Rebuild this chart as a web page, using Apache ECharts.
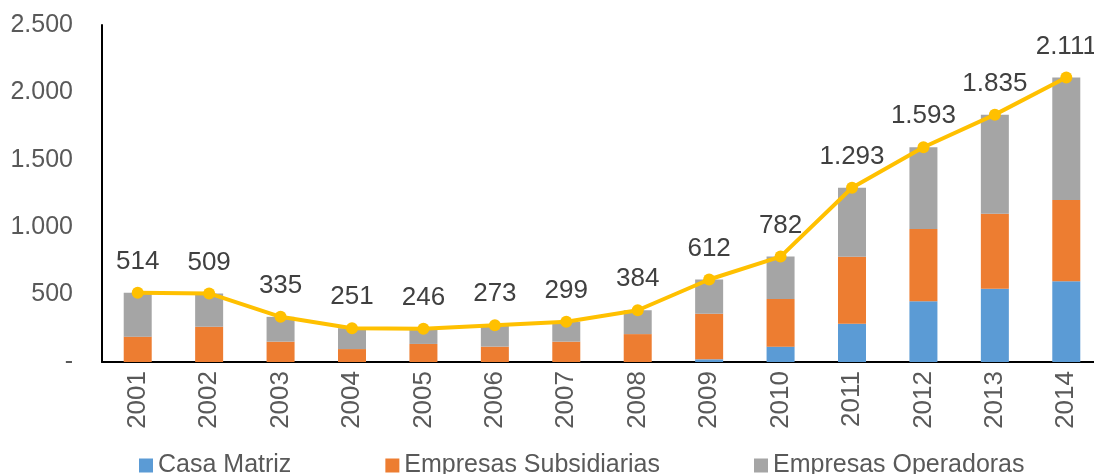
<!DOCTYPE html>
<html>
<head>
<meta charset="utf-8">
<script src="https://cdn.jsdelivr.net/npm/echarts@6/dist/echarts.min.js"></script>
<style>
  html, body { margin: 0; padding: 0; background: #fff; overflow: hidden; }
  #chart { width: 1112px; height: 474px; }
</style>
</head>
<body>
<div id="chart"></div>
<script>
var years = ['2001','2002','2003','2004','2005','2006','2007','2008','2009','2010','2011','2012','2013','2014'];
var casaMatriz = [0, 0, 0, 0, 0, 0, 0, 0, 20, 114, 284, 450, 544, 599];
var subsidiarias = [188, 262, 151, 96, 134, 114, 151, 207, 338, 353, 497, 537, 556, 603];
var operadoras = [326, 247, 184, 155, 112, 159, 148, 177, 254, 315, 512, 606, 735, 909];
var totales = [514, 509, 335, 251, 246, 273, 299, 384, 612, 782, 1293, 1593, 1835, 2111];

function fmt(v) {
  if (v === 0) return '-';
  return String(v).replace(/\B(?=(\d{3})+(?!\d))/g, '.');
}

var myChart = echarts.init(document.getElementById('chart'));
var font = 'Liberation Sans, Arial, sans-serif';

var option = {
  animation: false,
  textStyle: { fontFamily: font },
  grid: { left: 102, top: 25, right: 10, bottom: 112 },
  legend: {
    left: 134,
    top: 448,
    itemWidth: 14,
    itemHeight: 14,
    itemGap: 94,
    icon: 'rect',
    textStyle: { fontSize: 25, color: '#595959', fontFamily: font },
    data: ['Casa Matriz', 'Empresas Subsidiarias', 'Empresas Operadoras']
  },
  xAxis: {
    type: 'category',
    data: years,
    axisLine: { lineStyle: { color: '#000', width: 2 } },
    axisTick: { show: false },
    axisLabel: { rotate: 90, fontSize: 26, color: '#595959', margin: 9 }
  },
  yAxis: {
    type: 'value',
    min: 0,
    max: 2500,
    interval: 500,
    splitLine: { show: false },
    axisLine: { show: true, lineStyle: { color: '#000', width: 2 } },
    axisTick: { show: false },
    axisLabel: { fontSize: 25, color: '#595959', margin: 29, formatter: fmt }
  },
  series: [
    {
      name: 'Casa Matriz', type: 'bar', stack: 'total', barWidth: 28,
      itemStyle: { color: '#5B9BD5' },
      data: casaMatriz
    },
    {
      name: 'Empresas Subsidiarias', type: 'bar', stack: 'total', barWidth: 28,
      itemStyle: { color: '#ED7D31' },
      data: subsidiarias
    },
    {
      name: 'Empresas Operadoras', type: 'bar', stack: 'total', barWidth: 28,
      itemStyle: { color: '#A5A5A5' },
      data: operadoras
    },
    {
      name: 'Total', type: 'line',
      symbol: 'circle', symbolSize: 12,
      lineStyle: { color: '#FFC000', width: 4 },
      itemStyle: { color: '#FFC000' },
      label: {
        show: true, position: 'top', distance: 12,
        fontSize: 26, color: '#404040',
        formatter: function (p) { return fmt(p.value); }
      },
      data: totales,
      z: 5
    }
  ]
};

myChart.setOption(option);
window.addEventListener('resize', function () { myChart.resize(); });
</script>
</body>
</html>
